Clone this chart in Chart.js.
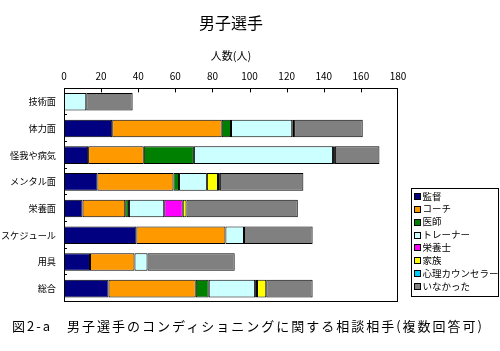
<!DOCTYPE html>
<html><head><meta charset="utf-8">
<script src="https://cdn.jsdelivr.net/npm/chart.js@4/dist/chart.umd.min.js"></script>
<style>
html,body{margin:0;padding:0;background:#fff}
#wrap{width:500px;height:351px;position:relative}
#cap{position:absolute;left:12px;top:317px;font-family:'Noto Sans CJK JP','Noto Sans',sans-serif;font-size:13px;line-height:18px;letter-spacing:2px;color:#000;white-space:nowrap}
</style>
</head><body><div id="wrap"><canvas id="c" width="500" height="351"></canvas><div id="cap"></div></div>
<script>
const categories = ['技術面','体力面','怪我や病気','メンタル面','栄養面','スケジュール','用具','総合'];
const seriesNames = ['監督','コーチ','医師','トレーナー','栄養士','家族','心理カウンセラー','いなかった'];
const seriesColors = ['#000080','#FF9900','#008000','#CCFFFF','#FF00FF','#FFFF00','#00CCFF','#808080'];
const kantoku    = [0, 26, 13, 18, 10, 39, 14, 24];
const coach      = [0, 59, 30, 41, 23, 48, 24, 47];
const doctor     = [0,  5, 27,  3,  2,  0,  0,  7];
const trainer    = [12, 33, 75, 15, 19, 10, 7, 25];
const dietitian  = [0,  1,  1,  0, 10,  0,  0,  1];
const family     = [0,  0,  0,  6,  2,  0,  0,  5];
const counselor  = [0,  0,  0,  1,  0,  0,  0,  0];
const nobody     = [25, 37, 24, 45, 60, 37, 47, 25];
const xTicks = [0,20,40,60,80,100,120,140,160,180];
const chartTitle = '男子選手';
const axisTitle = '人数(人)';
const caption = '図2-a　男子選手のコンディショニングに関する相談相手(複数回答可)';

document.getElementById('cap').textContent = caption;

const seriesValues = [kantoku, coach, doctor, trainer, dietitian, family, counselor, nobody];
const FONT = "'Noto Sans CJK JP', 'Noto Sans', sans-serif";
Chart.defaults.font.family = FONT;
Chart.defaults.color = '#000';

const datasets = seriesNames.map((name, i) => ({
  label: name,
  data: seriesValues[i].map(v => v === 0 ? null : v),
  backgroundColor: seriesColors[i],
  borderColor: '#000',
  borderWidth: 1,
  borderSkipped: false,
  barPercentage: 0.66,
  categoryPercentage: 1.0
}));

const framePlugin = {
  id: 'frame',
  afterDatasetsDraw(chart) {
    const {ctx, chartArea: a, scales} = chart;
    ctx.save();
    ctx.strokeStyle = '#000';
    ctx.lineWidth = 1;
    ctx.strokeRect(Math.round(a.left) + 0.5, Math.round(a.top) + 0.5, Math.round(a.right - a.left) - 1, Math.round(a.bottom - a.top) - 1);
    ctx.beginPath();
    xTicks.slice(1, -1).forEach(t => {
      const x = Math.round(scales.x.getPixelForValue(t)) + 0.5;
      ctx.moveTo(x, a.top); ctx.lineTo(x, a.top + 4);
    });
    const n = categories.length;
    for (let i = 1; i <= n; i++) {
      const y = Math.round(a.top + (a.bottom - a.top) * i / n) - 0.5;
      ctx.moveTo(a.left, y); ctx.lineTo(a.left + 3, y);
    }
    ctx.stroke();
    ctx.restore();
  }
};

const legendPlugin = {
  id: 'boxLegend',
  afterDraw(chart) {
    const {ctx, chartArea: a} = chart;
    const bx = Math.round(a.right) + 13.5, by = 188.5, bw = 87, bh = 108;
    ctx.save();
    ctx.fillStyle = '#fff';
    ctx.fillRect(bx, by, bw, bh);
    ctx.strokeStyle = '#000';
    ctx.lineWidth = 1;
    ctx.strokeRect(bx, by, bw, bh);
    ctx.font = '9.5px ' + FONT;
    ctx.textBaseline = 'middle';
    ctx.textAlign = 'left';
    chart.data.datasets.forEach((ds, i) => {
      const cy = by + 7.5 + i * 12.86;
      ctx.fillStyle = ds.backgroundColor;
      ctx.fillRect(bx + 3, Math.round(cy - 3), 6, 6);
      ctx.strokeStyle = '#000';
      ctx.strokeRect(bx + 3, Math.round(cy - 3) + 0.5, 6, 6);
      ctx.fillStyle = '#000';
      ctx.fillText(ds.label, bx + 11, cy);
    });
    ctx.restore();
  }
};

new Chart(document.getElementById('c'), {
  type: 'bar',
  data: { labels: categories, datasets },
  options: {
    responsive: false,
    animation: false,
    indexAxis: 'y',
    layout: { padding: { left: 0, right: 102, top: 0, bottom: 49 } },
    plugins: {
      legend: { display: false },
      tooltip: { enabled: false },
      title: {
        display: true, text: chartTitle, fullSize: false,
        font: { size: 16, weight: 'normal', family: FONT },
        color: '#000',
        padding: { top: 13, bottom: 17 }
      }
    },
    scales: {
      x: {
        type: 'linear', position: 'top', stacked: true,
        min: 0, max: 180,
        afterBuildTicks(scale) { scale.ticks = xTicks.map(v => ({ value: v })); },
        grid: { display: false, drawTicks: false },
        border: { display: false },
        ticks: { font: { size: 10 }, padding: 6, color: '#000', maxRotation: 0 },
        title: { display: true, text: axisTitle, font: { size: 11 }, padding: { top: 0, bottom: 2 }, color: '#000' }
      },
      y: {
        stacked: true,
        grid: { display: false, drawTicks: false },
        border: { display: false },
        ticks: { font: { size: 9.2 }, padding: 8, color: '#000' },
        afterFit(scale) { scale.width = 64; }
      }
    }
  },
  plugins: [framePlugin, legendPlugin]
});
</script>
</body></html>
